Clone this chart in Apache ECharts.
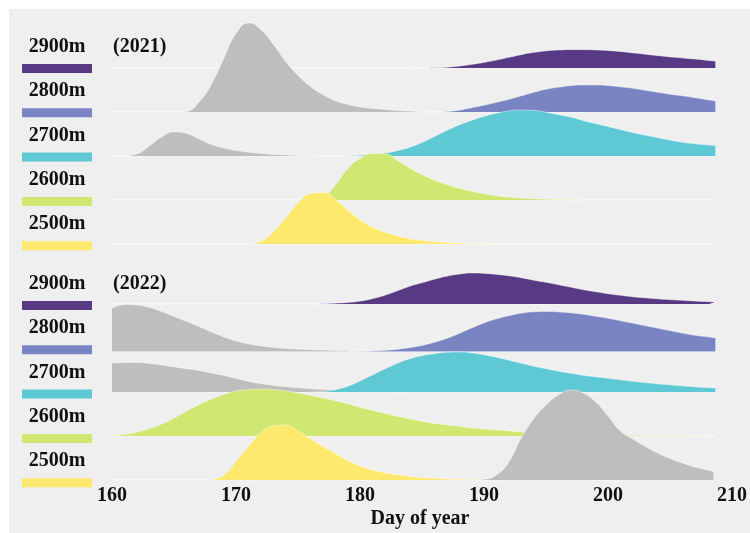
<!DOCTYPE html>
<html>
<head>
<meta charset="utf-8">
<script src="https://cdn.jsdelivr.net/npm/echarts@6/dist/echarts.min.js"></script>
<style>
  html, body { margin: 0; padding: 0; background: #ffffff; }
  #chart { width: 750px; height: 533px; }
</style>
</head>
<body>
<div id="chart"></div>
<script>
// Altitude bands (top to bottom) and their fill colours
const altitudes = ['2900m', '2800m', '2700m', '2600m', '2500m'];
const altColors = ['#573a83', '#7b84c3', '#5ec8d4', '#d0e771', '#fde96d'];
const grayColor = '#bebebe';
const years = ['(2021)', '(2022)'];
const xTicks = [160, 170, 180, 190, 200, 210];
const dayRange = [160, 208.5];

// Scaled density curves: [day of year, height]
// ---- 2021 ----
const d2021_2900 = [[185,0],[186,0.3],[187,1.2],[188,3],[189,5.5],[190,8.5],[191,12],[192,16],[193,20],[194,23],[195,25.3],[196,26.5],[197,27],[198,27],[199,26.5],[200,25.5],[201,24],[202,22],[203,20],[204,18],[205,16],[206,14.5],[207,13],[208,11],[208.5,10]];
const d2021_2800 = [[186,0],[187,0.5],[188,2],[189,4.5],[190,7],[191,10],[192,13],[193,16.5],[194,20],[195,23],[196,25],[197,26.5],[198,27],[199,27],[200,26.3],[201,25],[202,23.5],[203,21.5],[204,19.5],[205,17.5],[206,16],[207,14],[208,12],[208.5,11]];
const g2021_2800 = [[165.5,0],[166,0.5],[167,10],[168,28],[169,54],[170,79],[171,89],[172,82],[173,67],[174,50],[175,36],[176,25],[177,17],[178,11],[179,7.5],[180,5],[181,3.5],[182,2.5],[183,1.5],[184,0.8],[185,0.3],[186,0]];
const d2021_2700 = [[178,0],[179,0.3],[180,0.8],[181,1.7],[182,3],[183,5.5],[184,9],[185,14],[186,20],[187,26],[188,31.5],[189,36],[190,40],[191,43],[192,45.3],[193,46],[194,45.5],[195,43.5],[196,41],[197,38.5],[198,35],[199,32],[200,29],[201,26],[202,23],[203,20.5],[204,18],[205,15.5],[206,13.5],[207,12],[208,11],[208.5,10.5]];
const g2021_2700 = [[161,0],[162,2],[163,10],[164,19],[165,24],[166,22.5],[167,17],[168,11.5],[169,8],[170,5.5],[171,3.8],[172,2.5],[173,1.6],[174,1],[175,0.5],[176,0.2],[177,0]];
const d2021_2600 = [[176,0],[177,3],[178,16],[179,32],[180,42],[181,46.5],[182,46],[183,39],[184,31.5],[185,25],[186,19.5],[187,15],[188,11.5],[189,8.5],[190,6],[191,4],[192,2.7],[193,1.8],[194,1.2],[195,0.7],[196,0.4],[197,0.2],[198,0]];
const d2021_2500 = [[171,0],[172,3],[173,13],[174,27],[175,42],[176,50.5],[177,51.5],[178,44],[179,33],[180,23.5],[181,16.5],[182,11.5],[183,8],[184,5.2],[185,3.5],[186,2.2],[187,1.3],[188,0.8],[189,0.5],[190,0.3],[191,0.1],[192,0]];

// ---- 2022 ----
const d2022_2900 = [[176,0],[177,0.3],[178,0.8],[179,1.5],[180,3],[181,5.5],[182,9],[183,13.5],[184,18],[185,21.5],[186,25],[187,28],[188,30],[189,31],[190,30.5],[191,29.5],[192,28],[193,26],[194,23.5],[195,21.5],[196,19],[197,16.5],[198,14],[199,12],[200,10],[201,8.5],[202,7],[203,6],[204,5],[205,4.2],[206,3.5],[207,2.8],[208,2.3],[208.5,2]];
const d2022_2800 = [[179,0],[180,0.2],[181,0.5],[182,1.2],[183,2.3],[184,4],[185,6.3],[186,9.5],[187,13.5],[188,18.5],[189,24],[190,29],[191,33],[192,36],[193,38.5],[194,39.7],[195,40],[196,39.5],[197,38.5],[198,37],[199,35],[200,33],[201,30.5],[202,28],[203,25.5],[204,23],[205,20.5],[206,18],[207,16],[208,14.5],[208.5,13.5]];
const g2022_2800 = [[160,43],[161,47],[162,46.5],[163,44],[164,40],[165,35],[166,30],[167,25],[168,19.5],[169,14.5],[170,10.5],[171,7.5],[172,5.5],[173,4],[174,3],[175,2.3],[176,1.8],[177,1.4],[178,1],[179,0.6],[180,0.3],[181,0]];
const d2022_2700 = [[176,0],[177,0.5],[178,2.5],[179,6],[180,11.5],[181,17.5],[182,23.5],[183,29],[184,33.5],[185,36.5],[186,38.5],[187,39.8],[188,40],[189,39],[190,37],[191,34.5],[192,31.5],[193,28.5],[194,25.5],[195,23],[196,20.5],[197,18.5],[198,16.5],[199,15],[200,13.5],[201,12],[202,10.5],[203,9.2],[204,8],[205,7],[206,6],[207,5],[208,4.3],[208.5,4]];
const g2022_2700 = [[160,29],[161,29.5],[162,29.5],[163,28.5],[164,27],[165,25],[166,23.3],[167,21.5],[168,19],[169,16.5],[170,13.5],[171,10.5],[172,8.3],[173,6.5],[174,5.2],[175,4.2],[176,3.3],[177,2.5],[178,1.9],[179,1.3],[180,0.8],[181,0.5],[182,0.3],[183,0.1],[184,0]];
const d2022_2600 = [[160,0.5],[161,1.5],[162,4],[163,7.5],[164,12],[165,18],[166,25],[167,31.5],[168,37],[169,41.5],[170,45],[171,46.5],[172,47],[173,46.5],[174,45],[175,43],[176,40.5],[177,38],[178,35],[179,32],[180,28.5],[181,25.5],[182,22.5],[183,19.5],[184,17],[185,14.5],[186,12.5],[187,11],[188,9.5],[189,8],[190,7],[191,6],[192,5],[193,4],[194,3.3],[195,2.7],[196,2.2],[197,1.8],[198,1.5],[200,1],[202,0.8],[204,0.6],[206,0.5],[208.5,0.4]];
const d2022_2500 = [[168,0],[169,5],[170,19],[171,34],[172,47],[173,54],[174,55],[175,49],[176,41],[177,33.5],[178,26.5],[179,19.5],[180,14],[181,10],[182,7.3],[183,5.2],[184,3.7],[185,2.5],[186,1.7],[187,1.1],[188,0.7],[189,0.4],[190,0]];
const g2022_2500 = [[189,0],[190,0.8],[191,5],[192,18],[193,42],[194,61],[195,75],[196,85],[197,90],[198,87],[199,78],[200,64],[201,49],[202,41],[203,33.5],[204,27],[205,21.5],[206,17],[207,13],[208,10],[208.5,8.5]];

// Rows per panel, top to bottom: coloured curve plus optional gray curve
const panels = [
  [
    { colored: d2021_2900, gray: null },
    { colored: d2021_2800, gray: g2021_2800 },
    { colored: d2021_2700, gray: g2021_2700 },
    { colored: d2021_2600, gray: null },
    { colored: d2021_2500, gray: null }
  ],
  [
    { colored: d2022_2900, gray: null },
    { colored: d2022_2800, gray: g2022_2800 },
    { colored: d2022_2700, gray: g2022_2700 },
    { colored: d2022_2600, gray: null },
    { colored: d2022_2500, gray: g2022_2500 }
  ]
];

// Layout (pixels)
const baselines = [[68, 112, 156, 200, 244], [304, 351.5, 392, 436, 480]];
const keyTop = [64, 301];
const keyStep = 44.3;
const plotLeft = 112, plotRight = 16, rowHeight = 100;
const serif = '"Liberation Serif", "Times New Roman", "DejaVu Serif", serif';

const grids = [], xAxes = [], yAxes = [], series = [];
let z = 2;
panels.forEach((rows, p) => {
  rows.forEach((row, r) => {
    const gi = grids.length;
    const isBottom = (p === panels.length - 1 && r === rows.length - 1);
    grids.push({ left: plotLeft, right: plotRight, top: baselines[p][r] - rowHeight, height: rowHeight });
    xAxes.push({
      gridIndex: gi, type: 'value', min: xTicks[0], max: xTicks[xTicks.length - 1], interval: 10,
      show: isBottom,
      axisLine: { show: false }, axisTick: { show: false }, splitLine: { show: false },
      axisLabel: { show: isBottom, color: '#111', fontSize: 20, fontWeight: 'bold', fontFamily: serif, margin: 6 }
    });
    yAxes.push({ gridIndex: gi, type: 'value', min: 0, max: rowHeight, show: false });

    // faint white baseline across the data range
    series.push({
      type: 'line', xAxisIndex: gi, yAxisIndex: gi, z: z++, silent: true, symbol: 'none',
      data: [[dayRange[0], 0], [dayRange[1], 0]],
      lineStyle: { color: '#ffffff', width: 1 }
    });
    const curves = [];
    if (row.gray) curves.push({ data: row.gray, color: grayColor });
    curves.push({ data: row.colored, color: altColors[r] });
    curves.forEach(c => {
      series.push({
        type: 'line', xAxisIndex: gi, yAxisIndex: gi, z: z++, silent: true,
        symbol: 'none', smooth: 0.5, clip: false,
        data: c.data,
        lineStyle: { color: '#ffffff', width: 0.6, opacity: 0.7 },
        areaStyle: { color: c.color, opacity: 1 }
      });
    });
  });
});

// Panel background, key swatches, labels
const graphics = [
  { type: 'rect', z: -10, shape: { x: 9, y: 9, width: 741, height: 524 }, style: { fill: '#efefef' } }
];
panels.forEach((rows, p) => {
  graphics.push({
    type: 'text', z: 100, x: 113, y: keyTop[p] - 17,
    style: { text: years[p], fill: '#111', font: 'bold 20px ' + serif, align: 'left', verticalAlign: 'middle' }
  });
  altitudes.forEach((name, r) => {
    const top = keyTop[p] + r * keyStep;
    graphics.push({
      type: 'rect', z: 100, shape: { x: 22, y: top, width: 70, height: 9 }, style: { fill: altColors[r] }
    });
    graphics.push({
      type: 'text', z: 100, x: 57, y: top - 17,
      style: { text: name, fill: '#111', font: 'bold 20px ' + serif, align: 'center', verticalAlign: 'middle' }
    });
  });
});
graphics.push({
  type: 'text', z: 100, x: 420, y: 519,
  style: { text: 'Day of year', fill: '#111', font: 'bold 20px ' + serif, align: 'center', verticalAlign: 'middle' }
});

const chart = echarts.init(document.getElementById('chart'), null, { renderer: 'canvas' });
chart.setOption({
  animation: false,
  backgroundColor: '#ffffff',
  grid: grids,
  xAxis: xAxes,
  yAxis: yAxes,
  series: series,
  graphic: graphics
});
</script>
</body>
</html>
